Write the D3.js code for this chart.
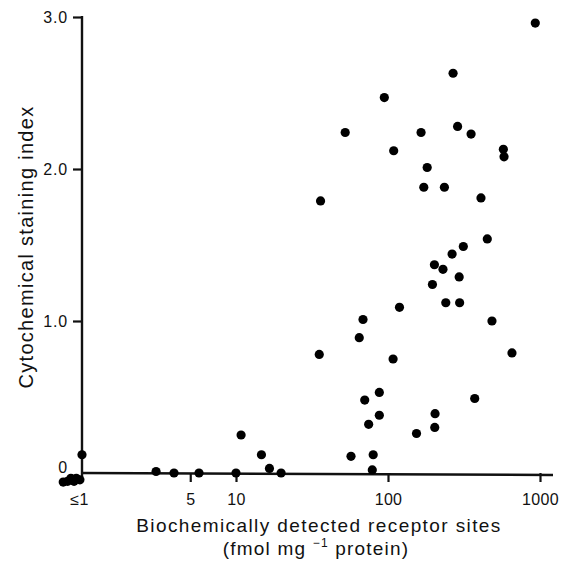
<!DOCTYPE html>
<html>
<head>
<meta charset="utf-8">
<script src="https://cdn.jsdelivr.net/npm/d3@7"></script>
<style>
  html, body { margin: 0; padding: 0; background: #fff; }
  svg { display: block; }
  text { font-family: "Liberation Sans", Arial, Helvetica, sans-serif; fill: #111; }
</style>
</head>
<body>
<svg id="chart" width="570" height="561"></svg>
<script>
// Biochemically detected receptor sites (fmol mg-1 protein), log scale
const receptorSites = [
  931, 268, 94.6, 52.3, 165, 287, 352, 574, 580, 109,
  181, 172, 235, 409, 36.0, 450, 313, 264, 202, 230,
  294, 196, 240, 296, 119, 68.5, 483, 64.7, 35.3, 108,
  654, 87.7, 70.3, 372, 87.7, 204, 74.6, 203, 154, 10.8,
  14.7, 57.1, 79.9, 16.6, 19.8, 78.8, 10, 5.71, 3.91, 2.98,
  0.97, 0.73, 0.78, 0.82, 0.86, 0.89, 0.94
];
// Cytochemical staining index
const stainingIndex = [
  2.96, 2.63, 2.47, 2.24, 2.24, 2.28, 2.23, 2.13, 2.08, 2.12,
  2.01, 1.88, 1.88, 1.81, 1.79, 1.54, 1.49, 1.44, 1.37, 1.34,
  1.29, 1.24, 1.12, 1.12, 1.09, 1.01, 1.00, 0.89, 0.78, 0.75,
  0.79, 0.53, 0.48, 0.49, 0.38, 0.39, 0.32, 0.30, 0.26, 0.25,
  0.12, 0.11, 0.12, 0.03, 0.00, 0.02, 0.00, 0.00, 0.00, 0.01,
  0.12, -0.06, -0.055, -0.035, -0.055, -0.035, -0.045
];
const xTickValues = [1, 5, 10, 100, 1000];
const xTickLabels = ["≤1", "5", "10", "100", "1000"];
const yTickValues = [0, 1, 2, 3];
const yTickLabels = ["0", "1.0", "2.0", "3.0"];
const xTitle = ["Biochemically detected receptor sites", "(fmol mg", "−1", " protein)"];
const yTitle = "Cytochemical staining index";

const svg = d3.select("#chart");
const x = d3.scaleLog().domain([1, 1000]).range([84, 540]);
const y = d3.scaleLinear().domain([0, 3]).range([473, 17]);

// Y axis
const yAxis = d3.axisLeft(y)
  .tickValues(yTickValues)
  .tickFormat((d, i) => yTickLabels[i])
  .tickSize(9).tickSizeOuter(0).tickPadding(5);
const gy = svg.append("g").attr("transform", "translate(82,0)").call(yAxis);
gy.select(".domain").remove();
gy.selectAll(".tick line").attr("stroke", "#111").attr("stroke-width", 2.2)
  .filter(d => d === 0).remove();
gy.selectAll(".tick text").style("font-size", "16px").attr("fill", "#111")
  .attr("letter-spacing", "0.8px")
  .filter(d => d === 0).attr("dy", "-0.05em");
svg.append("line")
  .attr("x1", 82).attr("x2", 82)
  .attr("y1", y(3) - 1).attr("y2", y(0) + 4)
  .attr("stroke", "#111").attr("stroke-width", 2.4);

// X axis
const xAxis = d3.axisBottom(x)
  .tickValues(xTickValues)
  .tickFormat((d, i) => xTickLabels[i])
  .tickSize(9).tickSizeOuter(0).tickPadding(12);
const gx = svg.append("g").attr("transform", `translate(0,${y(0)})`).call(xAxis);
gx.select(".domain").remove();
gx.selectAll(".tick line").attr("stroke", "#111").attr("stroke-width", 2.2)
  .filter(d => d === 1).remove();
gx.selectAll(".tick text").style("font-size", "16px").attr("fill", "#111")
  .attr("letter-spacing", "0.3px")
  .filter(d => d === 1).attr("dx", "-5");
svg.append("line")
  .attr("x1", 81).attr("x2", x(1000) + 13)
  .attr("y1", y(0)).attr("y2", y(0) + 2)
  .attr("stroke", "#111").attr("stroke-width", 2.4);

// Points
const pts = receptorSites.map((v, i) => ({ v, s: stainingIndex[i] }));
svg.append("g").selectAll("circle").data(pts).join("circle")
  .attr("cx", d => x(d.v))
  .attr("cy", d => y(d.s))
  .attr("r", 4.6)
  .attr("fill", "#000");

// Axis titles
svg.append("text")
  .attr("x", 319).attr("y", 532)
  .attr("text-anchor", "middle")
  .style("font-size", "19px")
  .attr("letter-spacing", "1.4px")
  .text(xTitle[0]);
const t2 = svg.append("text")
  .attr("x", 316).attr("y", 555)
  .attr("text-anchor", "middle")
  .style("font-size", "19px")
  .attr("letter-spacing", "1.2px");
t2.append("tspan").text(xTitle[1] + " ");
t2.append("tspan").attr("dy", -8).style("font-size", "12px").text(xTitle[2]);
t2.append("tspan").attr("dy", 8).text(xTitle[3]);

svg.append("text")
  .attr("transform", "translate(33,247) rotate(-90)")
  .attr("text-anchor", "middle")
  .style("font-size", "20px")
  .attr("letter-spacing", "1.3px")
  .text(yTitle);
</script>
</body>
</html>
